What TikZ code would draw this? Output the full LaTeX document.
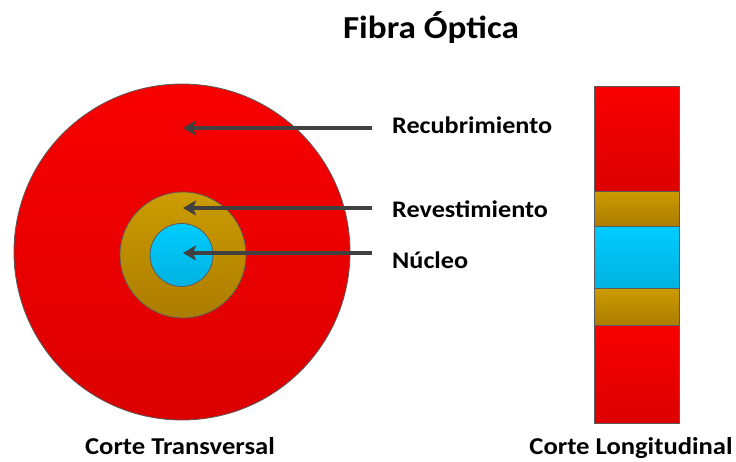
\documentclass[tikz,border=0pt]{standalone}
\usepackage{fontspec}
\setmainfont{Carlito}[FakeStretch=1.1]
\usetikzlibrary{arrows.meta}
\definecolor{redT}{HTML}{F80000}
\definecolor{redB}{HTML}{DC0000}
\definecolor{goldT}{HTML}{CC9C00}
\definecolor{goldB}{HTML}{AC7C00}
\definecolor{cyanT}{HTML}{00CCFF}
\definecolor{cyanB}{HTML}{00B2E0}
\definecolor{edge}{HTML}{5A5A5A}
\definecolor{arr}{HTML}{404040}
\tikzset{
  part/.style={draw=edge, line width=0.8pt},
  lbl/.style={font=\bfseries\fontsize{23.8}{26}\selectfont, inner sep=0pt, anchor=base west},
  captext/.style={font=\bfseries\fontsize{24.2}{26}\selectfont, inner sep=0pt, anchor=base},
  pointer/.style={draw=arr, line width=3.4pt, -{Stealth[length=13pt,width=15pt,inset=3pt]}}
}
\begin{document}
\begin{tikzpicture}[x=1pt,y=-1pt]
\useasboundingbox (0,0) rectangle (736,461);
% cross section
\shade[part, top color=redT, bottom color=redB] (182,252) circle[radius=168];
\shade[part, top color=goldT, bottom color=goldB] (183,255) circle[radius=63];
\shade[part, top color=cyanT, bottom color=cyanB] (181.5,255) circle[radius=31.5];
% longitudinal
\shade[part, top color=redT, bottom color=redB] (594,86) rectangle (679,191);
\shade[part, top color=goldT, bottom color=goldB] (594,191) rectangle (679,226);
\shade[part, top color=cyanT, bottom color=cyanB] (594,226) rectangle (679,288);
\shade[part, top color=goldT, bottom color=goldB] (594,288) rectangle (679,325);
\shade[part, top color=redT, bottom color=redB] (594,325) rectangle (679,423);
% title & labels
\node[font=\bfseries\fontsize{32}{34}\selectfont, inner sep=0pt, anchor=base] (title) at (431,38) {Fibra Óptica};
\node[lbl] (rec) at (392,133) {Recubrimiento};
\node[lbl] (rev) at (392,217) {Revestimiento};
\node[lbl] (nuc) at (392,268) {Núcleo};
\node[captext] (ct) at (180,454) {Corte Transversal};
\node[captext] (cl) at (631,454) {Corte Longitudinal};
% arrows
\coordinate (s1) at (372,128); \coordinate (t1) at (183,128);
\coordinate (s2) at (372,208); \coordinate (t2) at (183,208);
\coordinate (s3) at (372,253); \coordinate (t3) at (183,253);
\draw[pointer] (s1) -- (t1);
\draw[pointer] (s2) -- (t2);
\draw[pointer] (s3) -- (t3);
\end{tikzpicture}
\end{document}
